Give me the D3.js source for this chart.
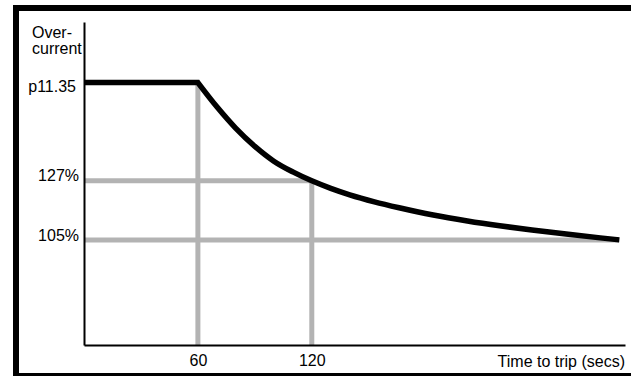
<!DOCTYPE html>
<html>
<head>
<meta charset="utf-8">
<script src="https://cdn.jsdelivr.net/npm/d3@7"></script>
<style>
  html, body { margin: 0; padding: 0; background: #fff; }
  svg { display: block; }
  text { font-family: Arial, "Liberation Sans", sans-serif; fill: #000; }
</style>
</head>
<body>
<svg id="chart" width="631" height="376"></svg>
<script>
// ---- data ----
const xTickValues = [60, 120];
const xTickLabels = ["60", "120"];
const yTickValues = [163.5, 127, 105];
const yTickLabels = ["p11.35", "127%", "105%"];
const yAxisTitle = ["Over-", "current"];
const xAxisTitle = "Time to trip (secs)";

// flat section (overcurrent limit held until 60 s)
const flatTimes = [0, 60];
const flatValues = [163.5, 163.5];
// inverse-time decay after 60 s
const curveTimes  = [60, 70, 80, 90, 100, 110, 120, 130, 140, 153, 166, 184, 202, 219, 236, 254, 272, 282];
const curveValues = [163.5, 154.5, 146.5, 139.8, 134.3, 130.3, 127, 124.2, 121.8, 119.2, 117, 114.3, 112.1, 110.3, 108.7, 107.2, 105.8, 105.05];

// ---- scales ----
const svg = d3.select("#chart");
const x = d3.scaleLinear().domain([0, 285]).range([84, 625]);
const y = d3.scaleLinear().domain([66, 186]).range([345, 22]);
const FS = 16;

// outer frame
svg.append("rect")
  .attr("x", 16).attr("y", 8).attr("width", 660).attr("height", 368)
  .attr("fill", "none").attr("stroke", "#000").attr("stroke-width", 6);

const grey = "#b3b3b3";
const gw = 5;
const tEnd = curveTimes[curveTimes.length - 1];

// grey reference lines
const g = svg.append("g");
g.append("line") // 60 s vertical
  .attr("x1", x(60)).attr("x2", x(60))
  .attr("y1", y(flatValues[1])).attr("y2", y.range()[0])
  .attr("stroke", grey).attr("stroke-width", gw);
g.append("line") // 120 s vertical
  .attr("x1", x(120)).attr("x2", x(120))
  .attr("y1", y(127)).attr("y2", y.range()[0])
  .attr("stroke", grey).attr("stroke-width", gw);
g.append("line") // 127% horizontal
  .attr("x1", x(0)).attr("x2", x(120))
  .attr("y1", y(127)).attr("y2", y(127))
  .attr("stroke", grey).attr("stroke-width", gw);
g.append("line") // 105% horizontal
  .attr("x1", x(0)).attr("x2", x(tEnd))
  .attr("y1", y(105)).attr("y2", y(105))
  .attr("stroke", grey).attr("stroke-width", gw);

// axes
const yAxis = d3.axisLeft(y).tickValues(yTickValues)
  .tickFormat((d, i) => yTickLabels[i]).tickSize(0).tickPadding(5);
const xAxis = d3.axisBottom(x).tickValues(xTickValues)
  .tickFormat((d, i) => xTickLabels[i]).tickSize(0).tickPadding(10);

const ya = svg.append("g").attr("transform", `translate(${x(0)},0)`).call(yAxis);
const xa = svg.append("g").attr("transform", `translate(0,${y.range()[0]})`).call(xAxis);
[ya, xa].forEach(a => {
  a.select(".domain").attr("stroke", "#000").attr("stroke-width", 2);
  a.selectAll("text").attr("font-size", FS).attr("font-family", "Arial, 'Liberation Sans', sans-serif").attr("fill", "#000");
});
// fine offsets of y labels (as in original)
const yLabelDy = ["0.58em", "-0.02em", "0.05em"];
const yLabelDx = [-3, 0, 0];
ya.selectAll(".tick text").attr("dy", (d, i) => yLabelDy[i]).attr("dx", (d, i) => yLabelDx[i]);

// the trip curve
const flatLine = d3.line().x((d, i) => x(flatTimes[i])).y((d, i) => y(flatValues[i]));
const decayLine = d3.line().x((d, i) => x(curveTimes[i])).y((d, i) => y(curveValues[i])).curve(d3.curveMonotoneX);
const dPath = flatLine(flatTimes) + decayLine(curveTimes).replace(/^M/, "L");
svg.append("path").attr("d", dPath)
  .attr("fill", "none").attr("stroke", "#000").attr("stroke-width", 5.5)
  .attr("stroke-linejoin", "miter");

// axis titles
svg.append("text").attr("x", 32).attr("y", 38).attr("font-size", FS).text(yAxisTitle[0]);
svg.append("text").attr("x", 32).attr("y", 54).attr("font-size", FS).text(yAxisTitle[1]);
svg.append("text").attr("x", 625).attr("y", 367).attr("font-size", FS)
  .attr("text-anchor", "end").text(xAxisTitle);
</script>
</body>
</html>
